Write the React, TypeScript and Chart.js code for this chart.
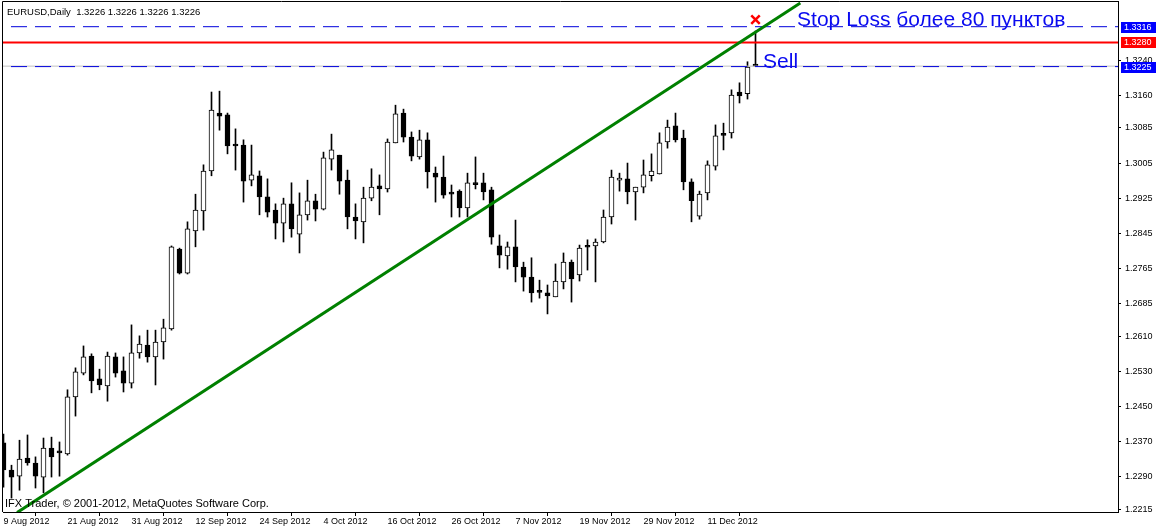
import { useEffect, useRef } from 'react';
import { Chart, registerables } from 'chart.js';

Chart.register(...registerables);

// ---------------- data ----------------
const HEADER_TEXT = 'EURUSD,Daily  1.3226 1.3226 1.3226 1.3226';
const COPYRIGHT_TEXT = 'IFX Trader, © 2001-2012, MetaQuotes Software Corp.';
const STOP_TEXT = 'Stop Loss более 80 пунктов';
const SELL_TEXT = 'Sell';

const DATE_LABELS = [
  '9 Aug 2012', '21 Aug 2012', '31 Aug 2012', '12 Sep 2012', '24 Sep 2012', '4 Oct 2012',
  '16 Oct 2012', '26 Oct 2012', '7 Nov 2012', '19 Nov 2012', '29 Nov 2012', '11 Dec 2012',
];
const DATE_TICK_BARS = [0, 8, 16, 24, 32, 40, 48, 56, 64, 72, 80, 88];

const PRICE_TICKS = [
  1.2215, 1.2290, 1.2370, 1.2450, 1.2530, 1.2610, 1.2685,
  1.2765, 1.2845, 1.2925, 1.3005, 1.3085, 1.3160, 1.3240,
];

const OPEN = [
  1.2367, 1.2305, 1.2291, 1.2332, 1.2321, 1.2289, 1.2355, 1.2348, 1.2342, 1.2472,
  1.2526, 1.2565, 1.2513, 1.2497, 1.2563, 1.2531, 1.2503, 1.2572, 1.2590, 1.2563,
  1.2597, 1.2627, 1.2809, 1.2754, 1.2850, 1.2896, 1.2987, 1.3119, 1.3115, 1.3046,
  1.3046, 1.2966, 1.2976, 1.2928, 1.2898, 1.2868, 1.2912, 1.2843, 1.2887, 1.2919,
  1.2900, 1.3014, 1.3023, 1.2966, 1.2882, 1.2871, 1.2925, 1.2953, 1.2946, 1.3051,
  1.3119, 1.3064, 1.3019, 1.3058, 1.2982, 1.2973, 1.2936, 1.2941, 1.2903, 1.2957,
  1.2960, 1.2944, 1.2816, 1.2793, 1.2814, 1.2768, 1.2745, 1.2711, 1.2709, 1.2700,
  1.2734, 1.2779, 1.2750, 1.2814, 1.2816, 1.2825, 1.2882, 1.2966, 1.2969, 1.2939,
  1.2950, 1.2976, 1.2980, 1.3053, 1.3090, 1.3062, 1.2962, 1.2884, 1.2937, 1.2998,
  1.3071, 1.3074, 1.3167, 1.3163, 1.3226,
];
const HIGH = [
  1.2387, 1.2316, 1.2373, 1.2385, 1.2335, 1.2378, 1.2380, 1.2369, 1.2488, 1.2538,
  1.2588, 1.2570, 1.2535, 1.2574, 1.2572, 1.2563, 1.2636, 1.2611, 1.2624, 1.2624,
  1.2649, 1.2816, 1.2811, 1.2871, 1.2934, 1.3001, 1.3167, 1.3169, 1.3119, 1.3083,
  1.3058, 1.3046, 1.2987, 1.2969, 1.2912, 1.2925, 1.2960, 1.2937, 1.2966, 1.2934,
  1.3030, 1.3071, 1.3023, 1.2989, 1.2912, 1.2950, 1.2992, 1.2978, 1.3060, 1.3137,
  1.3128, 1.3076, 1.3080, 1.3074, 1.2996, 1.3021, 1.2955, 1.2944, 1.2982, 1.3019,
  1.2982, 1.2950, 1.2841, 1.2825, 1.2875, 1.2779, 1.2789, 1.2738, 1.2727, 1.2775,
  1.2800, 1.2784, 1.2818, 1.2830, 1.2832, 1.2898, 1.2989, 1.2982, 1.3005, 1.2950,
  1.3012, 1.3026, 1.3074, 1.3103, 1.3119, 1.3080, 1.2969, 1.2941, 1.3010, 1.3092,
  1.3096, 1.3172, 1.3188, 1.3236, 1.3306,
];
const LOW = [
  1.2266, 1.2241, 1.2259, 1.2316, 1.2264, 1.2253, 1.2289, 1.2291, 1.2339, 1.2428,
  1.2522, 1.2481, 1.2488, 1.2462, 1.2517, 1.2483, 1.2492, 1.2560, 1.2551, 1.2499,
  1.2558, 1.2624, 1.2752, 1.2752, 1.2814, 1.2852, 1.2976, 1.3080, 1.3026, 1.2989,
  1.2916, 1.2953, 1.2887, 1.2882, 1.2832, 1.2825, 1.2836, 1.2800, 1.2875, 1.2873,
  1.2898, 1.2989, 1.2934, 1.2855, 1.2832, 1.2823, 1.2919, 1.2887, 1.2939, 1.3051,
  1.3053, 1.3010, 1.3014, 1.2948, 1.2916, 1.2925, 1.2882, 1.2882, 1.2882, 1.2946,
  1.2921, 1.2820, 1.2766, 1.2763, 1.2734, 1.2713, 1.2688, 1.2697, 1.2661, 1.2700,
  1.2718, 1.2688, 1.2736, 1.2761, 1.2734, 1.2823, 1.2866, 1.2941, 1.2912, 1.2875,
  1.2937, 1.2964, 1.2980, 1.3039, 1.3053, 1.2944, 1.2871, 1.2877, 1.2921, 1.2989,
  1.3035, 1.3062, 1.3142, 1.3151, 1.3226,
];
const CLOSE = [
  1.2305, 1.2289, 1.2330, 1.2321, 1.2291, 1.2355, 1.2335, 1.2344, 1.2472, 1.2529,
  1.2563, 1.2508, 1.2499, 1.2565, 1.2526, 1.2503, 1.2572, 1.2592, 1.2563, 1.2597,
  1.2629, 1.2814, 1.2754, 1.2855, 1.2898, 1.2987, 1.3126, 1.3112, 1.3044, 1.3044,
  1.2964, 1.2978, 1.2928, 1.2893, 1.2868, 1.2912, 1.2855, 1.2887, 1.2919, 1.2900,
  1.3017, 1.3035, 1.2964, 1.2882, 1.2873, 1.2925, 1.2950, 1.2946, 1.3053, 1.3117,
  1.3064, 1.3021, 1.3058, 1.2985, 1.2973, 1.2932, 1.2934, 1.2903, 1.2960, 1.2956,
  1.2939, 1.2836, 1.2795, 1.2814, 1.2768, 1.2745, 1.2709, 1.2710, 1.2702, 1.2736,
  1.2779, 1.2741, 1.2811, 1.2813, 1.2825, 1.2882, 1.2973, 1.2971, 1.2939, 1.2950,
  1.2978, 1.2987, 1.3051, 1.3087, 1.3058, 1.2962, 1.2919, 1.2934, 1.3001, 1.3067,
  1.3068, 1.3160, 1.3158, 1.3224, 1.3226,
];

const STOP_LOSS_LEVEL = 1.3316;
const RED_LEVEL = 1.3280;
const SELL_LEVEL = 1.3225;
const BID_LEVEL = 1.3226;

const TREND_LINE = [
  { x: 1.7, y: 1.2208 },
  { x: 99.6, y: 1.3370 },
];
const STOP_MARK = { x: 94, y: 1.3332 };
const STOP_TEXT_ANCHOR = { x: 99.2, y: 1.3318 };
const SELL_TEXT_ANCHOR = { x: 94.95, y: 1.3221 };

const X_MIN = -0.0625;
const X_MAX = 139.3125;
const Y_MIN = 1.22093;
const Y_MAX = 1.33723;

const FONT = "'Liberation Sans', Arial, sans-serif";
const LEVEL_BLUE = '#0000dc';
const TEXT_BLUE = '#0a0af0';

export default function App() {
  const ref = useRef<HTMLCanvasElement>(null);

  useEffect(() => {
    document.body.style.margin = '0';
    const canvas = ref.current;
    if (!canvas) return;

    const idx = OPEN.map((_, i) => i);
    const wickData = idx.map((i) => ({ x: i, y: [LOW[i], HIGH[i]] }));
    const bodyData = idx.map((i) => ({
      x: i,
      y: [Math.min(OPEN[i], CLOSE[i]), Math.max(OPEN[i], CLOSE[i])],
    }));
    const bodyFill = idx.map((i) => (CLOSE[i] > OPEN[i] ? '#ffffff' : '#000000'));
    const levelLine = (v: number) => [
      { x: X_MIN - 5, y: v },
      { x: X_MAX + 5, y: v },
    ];

    const decor = {
      id: 'decor',
      afterDraw(chart: any) {
        const c = chart.ctx;
        const a = chart.chartArea;
        const xs = chart.scales.x;
        const ys = chart.scales.y;
        c.save();
        // frame (left / top)
        c.strokeStyle = '#000';
        c.lineWidth = 1;
        c.beginPath();
        c.moveTo(a.left - 0.5, a.bottom);
        c.lineTo(a.left - 0.5, a.top - 0.5);
        c.lineTo(a.right + 1, a.top - 0.5);
        c.stroke();

        // header + copyright
        c.fillStyle = '#000';
        c.textBaseline = 'alphabetic';
        c.textAlign = 'left';
        c.font = `9.5px ${FONT}`;
        c.fillText(HEADER_TEXT, 7, 15);
        c.font = `11px ${FONT}`;
        c.fillText(COPYRIGHT_TEXT, 5, 507);

        // text objects
        c.fillStyle = TEXT_BLUE;
        c.font = `21px ${FONT}`;
        c.fillText(STOP_TEXT, xs.getPixelForValue(STOP_TEXT_ANCHOR.x), ys.getPixelForValue(STOP_TEXT_ANCHOR.y));
        c.fillText(SELL_TEXT, xs.getPixelForValue(SELL_TEXT_ANCHOR.x), ys.getPixelForValue(SELL_TEXT_ANCHOR.y));

        // price tags on the axis
        const tag = (v: number, bg: string) => {
          const y = Math.round(ys.getPixelForValue(v));
          c.fillStyle = bg;
          c.fillRect(a.right + 3, y - 5, 35, 11);
          c.fillStyle = '#fff';
          c.font = `9px ${FONT}`;
          c.textBaseline = 'middle';
          c.fillText(v.toFixed(4), a.right + 6, y + 0.5);
        };
        tag(STOP_LOSS_LEVEL, '#0000ff');
        tag(RED_LEVEL, '#ff0000');
        tag(SELL_LEVEL, '#0000ff');
        c.restore();
      },
    };

    const chart = new Chart(canvas, {
      data: {
        datasets: [
          {
            type: 'scatter',
            data: [STOP_MARK],
            pointStyle: 'crossRot',
            pointRadius: 6,
            borderColor: '#ff0000',
            backgroundColor: '#ff0000',
            pointBorderWidth: 2.5,
            clip: false,
            order: 0,
          } as any,
          {
            type: 'line',
            data: TREND_LINE,
            borderColor: '#008000',
            borderWidth: 3,
            pointRadius: 0,
            clip: 0,
            order: 1,
          } as any,
          {
            type: 'line',
            data: levelLine(STOP_LOSS_LEVEL),
            borderColor: LEVEL_BLUE,
            borderWidth: 1,
            borderDash: [16, 8],
            pointRadius: 0,
            clip: 0,
            order: 2,
          } as any,
          {
            type: 'line',
            data: levelLine(SELL_LEVEL),
            borderColor: LEVEL_BLUE,
            borderWidth: 1,
            borderDash: [16, 8],
            pointRadius: 0,
            clip: 0,
            order: 2,
          } as any,
          {
            type: 'line',
            data: levelLine(BID_LEVEL),
            borderColor: '#c0c0c0',
            borderWidth: 1,
            pointRadius: 0,
            clip: 0,
            order: 3,
          } as any,
          {
            type: 'line',
            data: levelLine(RED_LEVEL),
            borderColor: '#ff0000',
            borderWidth: 2,
            pointRadius: 0,
            clip: 0,
            order: 2,
          } as any,
          {
            type: 'bar',
            data: bodyData,
            backgroundColor: bodyFill,
            borderColor: '#000000',
            borderWidth: 1,
            borderSkipped: false,
            barThickness: 5,
            minBarLength: 2,
            grouped: false,
            order: 5,
          } as any,
          {
            type: 'bar',
            data: wickData,
            backgroundColor: '#000000',
            borderWidth: 0,
            barThickness: 1,
            grouped: false,
            order: 6,
          } as any,
        ],
      },
      options: {
        responsive: false,
        animation: false,
        devicePixelRatio: 1,
        layout: { autoPadding: false, padding: { left: 3, top: 2, right: 0, bottom: 0 } },
        plugins: { legend: { display: false }, tooltip: { enabled: false } },
        events: [],
        scales: {
          x: {
            type: 'linear',
            min: X_MIN,
            max: X_MAX,
            offset: false,
            afterBuildTicks: (s: any) => {
              s.ticks = DATE_TICK_BARS.map((v) => ({ value: v }));
            },
            afterFit: (s: any) => {
              s.height = 17;
              s.paddingLeft = 0;
              s.paddingRight = 0;
            },
            grid: { drawOnChartArea: false, drawTicks: true, tickLength: 4, color: '#000' },
            border: { display: true, color: '#000' },
            ticks: {
              autoSkip: false,
              maxRotation: 0,
              align: 'start',
              padding: 0,
              color: '#000',
              font: { family: FONT, size: 9 },
              callback: (_v: any, i: number) => DATE_LABELS[i],
            },
          },
          y: {
            type: 'linear',
            position: 'right',
            min: Y_MIN,
            max: Y_MAX,
            afterBuildTicks: (s: any) => {
              s.ticks = PRICE_TICKS.map((v) => ({ value: v }));
            },
            afterFit: (s: any) => {
              s.width = 39;
              s.paddingTop = 0;
              s.paddingBottom = 0;
            },
            grid: { drawOnChartArea: false, drawTicks: true, tickLength: 3, color: '#000' },
            border: { display: true, color: '#000' },
            ticks: {
              padding: 4,
              color: '#000',
              font: { family: FONT, size: 9 },
              callback: (v: any) => Number(v).toFixed(4),
            },
          },
        },
      } as any,
      plugins: [decor],
    });
    return () => chart.destroy();
  }, []);

  return (
    <div style={{ position: 'fixed', left: 0, top: 0, width: 1157, height: 529, background: '#fff' }}>
      <canvas ref={ref} width={1157} height={529} style={{ display: 'block' }} />
    </div>
  );
}
